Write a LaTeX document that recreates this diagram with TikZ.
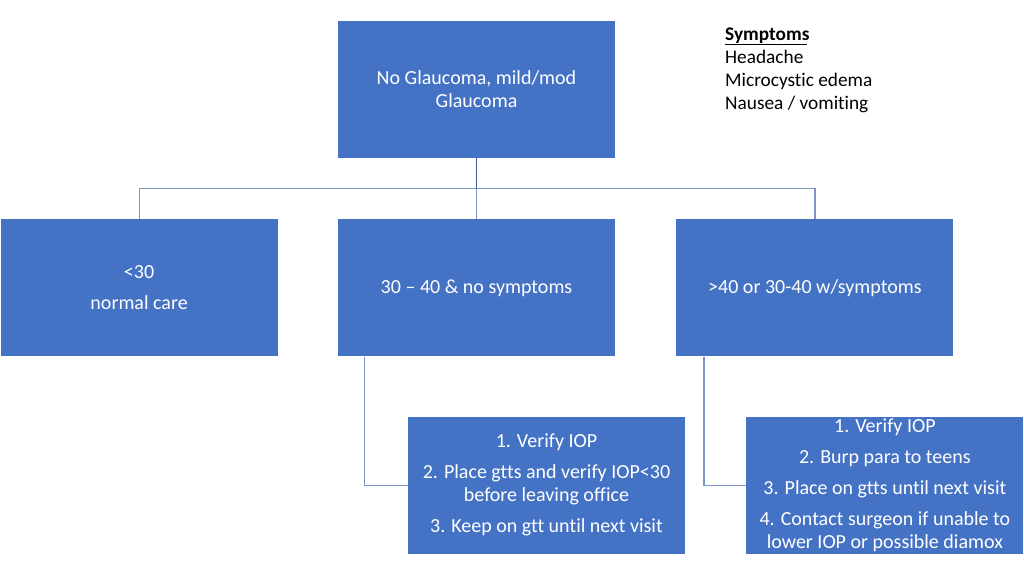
\documentclass[tikz,border=0pt]{standalone}
\usepackage{fontspec}
\setmainfont[Ligatures={NoCommon}]{Carlito}
\usepackage{tikz}
\usetikzlibrary{positioning}
\definecolor{boxblue}{RGB}{68,114,196}
\definecolor{linkblue}{RGB}{122,150,198}
\definecolor{stemblue}{RGB}{58,90,152}

\begin{document}
\begin{tikzpicture}[x=1pt, y=1pt, node distance=61pt,
  every node/.style = {align=center, font=\fontsize{20}{23}\selectfont},
  stage/.style = {rectangle, fill=boxblue, text=white, minimum width=277pt, minimum height=137pt, inner sep=0pt},
  link/.style = {draw=linkblue, line width=1.2pt}]
  \useasboundingbox (0,0) rectangle (1024,-576);
  \node[stage] (top) at (476.5,-89.5) {No Glaucoma, mild/mod\\Glaucoma};
  \node[stage, below=of top] (mid) {30 -- 40 \& no symptoms};
  \node[stage, left=60pt of mid] (low) {<30\\[8pt]normal care};
  \node[stage, right=61pt of mid] (high) {>40 or 30-40 w/symptoms};
  \node[stage, below=60pt of mid, xshift=70pt] (midsteps)
    {1. Verify IOP\\[8pt]2. Place gtts and verify IOP<30\\before leaving office\\[8pt]3. Keep on gtt until next visit};
  \node[stage, below=60pt of high, xshift=70pt] (highsteps)
    {1. Verify IOP\\[8pt]2. Burp para to teens\\[8pt]3. Place on gtts until next visit\\[8pt]4. Contact surgeon if unable to\\lower IOP or possible diamox};
  \node[anchor=north west, align=left, inner sep=0pt, font=\fontsize{19.3}{22.8}\selectfont] (symptoms) at (725,-28)
    {\textbf{Symptoms}\rule[-2.5pt]{0pt}{0pt}\\Headache\\Microcystic edema\\Nausea / vomiting};
  \draw[line width=1pt] ([yshift=-16.5pt]symptoms.north west) -- ++(82,0);
  % tree links
  \coordinate (fork) at ([yshift=-30pt]top.south);
  \draw[draw=stemblue, line width=1.2pt] (top.south) -- (fork);
  \draw[link] (low.north) |- (fork) -| (high.north);
  \draw[link] (fork) -- (mid.north);
  \draw[link] ([xshift=-112pt]mid.south) |- (midsteps.west);
  \draw[link] ([xshift=-111pt]high.south) |- (highsteps.west);
\end{tikzpicture}
\end{document}
